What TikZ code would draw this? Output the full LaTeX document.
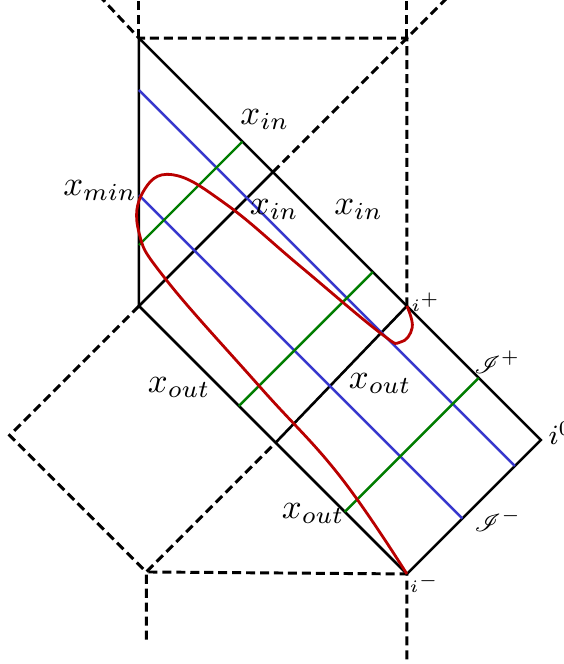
\documentclass[tikz,border=0pt]{standalone}
\usepackage{mathrsfs}
\usetikzlibrary{calc}
\definecolor{rayblue}{RGB}{55,55,205}
\definecolor{raygreen}{RGB}{0,125,0}
\definecolor{pathred}{RGB}{185,0,0}

\begin{document}
\begin{tikzpicture}[x=1.35cm, y=1.35cm,
    bd/.style={line width=0.75pt},
    dsh/.style={line width=0.85pt, dash pattern=on 2.6pt off 1.4pt},
    bline/.style={rayblue, line width=0.7pt},
    gline/.style={raygreen, line width=0.7pt},
    rline/.style={pathred, line width=0.8pt}]
    \useasboundingbox (-1.037,-2.672) rectangle (3.172,2.284);
    % Các điểm góc
    \coordinate (A) at (0,2);
    \coordinate (B) at (2,2);
    \coordinate (C) at (0,0);
    \coordinate (X1) at (1,1);
    \coordinate (ip) at (2,0);
    \coordinate (izero) at (3,-1);
    \coordinate (im) at (2,-2);
    \coordinate (X2) at (1.02,-1.02);
    \coordinate (L) at (-0.965,-0.965);
    \coordinate (D) at (0.055,-1.985);
    
    % Biên nét đứt
    \draw[dsh] (-0.3,2.32) -- (A) -- (B) -- (ip);
    \draw[dsh] (A) -- (0,2.32);
    \draw[dsh] (B) -- (2,2.32);
    \draw[dsh] (X1) -- (2.32,2.32);
    \draw[dsh] (C) -- (L) -- (D) -- (X2);
    \draw[dsh] (0.055,-2.49) -- (D) -- (im) -- (2,-2.72);
    
    % Biên liền
    \draw[bd] (C) -- (A) -- (izero) -- (im) -- (C);
    \draw[bd] (C) -- (X1);
    \draw[bd] (X2) -- (ip);
    
    % Các tia xanh dương
    \foreach \t in {0.194,0.586}
        \draw[bline] ($(A)!\t!(C)$) -- ($(izero)!\t!(im)$);
    
    % Các tia xanh lá
    \draw[gline] (0,0.455) -- (0.7725,1.2275);
    \draw[gline] ($(C)!0.373!(im)$) -- ++(1,1);
    \draw[gline] ($(C)!0.768!(im)$) -- ++(1,1);
    
    % Đường cong màu đỏ từ i^+ đến i^-
    \draw[rline] plot[smooth, tension=0.7] coordinates {(ip) (2.04,-0.16)
        (1.95,-0.27) (1.8,-0.2) (1.2,0.3) (0.65,0.76) (0.25,0.98)
        (0.03,0.85) (0,0.55) (0.2,0.2) (0.9,-0.6) (1.5,-1.27) (im)};
    
    % Nhãn
    \node (xin1) at (0.94,1.39) {$x_{in}$};
    \node (xin2) at (1.01,0.72) {$x_{in}$};
    \node (xin3) at (1.64,0.72) {$x_{in}$};
    \node (xmin) at (-0.29,0.86) {$x_{min}$};
    \node (xout1) at (0.30,-0.61) {$x_{out}$};
    \node (xout2) at (1.80,-0.58) {$x_{out}$};
    \node (xout3) at (1.30,-1.55) {$x_{out}$};
    \node (lip) at (2.14,0.03) {\tiny $i^+$};
    \node (lJp) at (2.675,-0.42) {\scriptsize $\mathscr{I}^+$};
    \node (li0) at (3.15,-0.95) {\footnotesize $i^0$};
    \node (lJm) at (2.68,-1.60) {\scriptsize $\mathscr{I}^-$};
    \node (lim) at (2.13,-2.07) {\tiny $i^-$};
\end{tikzpicture}
\end{document}
